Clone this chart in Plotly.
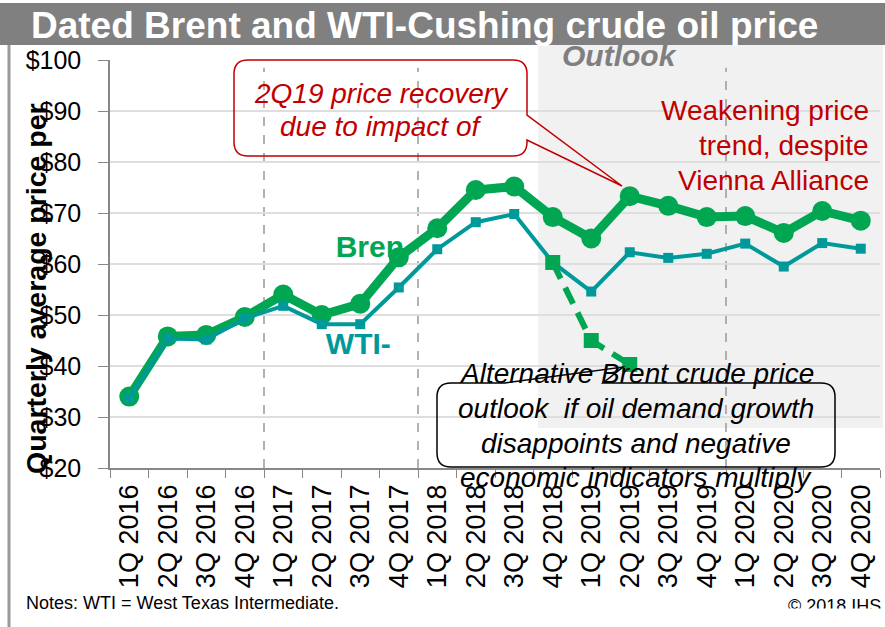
import plotly.graph_objects as go

quarters = [
    "1Q 2016", "2Q 2016", "3Q 2016", "4Q 2016",
    "1Q 2017", "2Q 2017", "3Q 2017", "4Q 2017",
    "1Q 2018", "2Q 2018", "3Q 2018", "4Q 2018",
    "1Q 2019", "2Q 2019", "3Q 2019", "4Q 2019",
    "1Q 2020", "2Q 2020", "3Q 2020", "4Q 2020",
]
brent = [34.0, 45.8, 46.1, 49.6, 54.0, 50.0, 52.2, 61.3, 67.0, 74.5,
         75.2, 69.2, 65.0, 73.3, 71.4, 69.2, 69.4, 66.1, 70.4, 68.5]
wti = [33.8, 45.4, 45.2, 49.3, 51.8, 48.2, 48.2, 55.4, 62.9, 68.2,
       69.8, 60.3, 54.6, 62.3, 61.2, 62.0, 64.0, 59.5, 64.1, 63.0]
alt_quarters = ["4Q 2018", "1Q 2019", "2Q 2019"]
alt_brent = [60.3, 45.0, 40.3]
year_breaks = [3.5, 7.5, 15.5]

FONT = "Liberation Sans, Arial, sans-serif"
GREEN = "#00a651"
TEAL = "#009999"
RED = "#c00000"

# plot area in pixels: x 110..880, y 60..468
L, R, T, B = 110, 880, 60, 468

xpos = list(range(len(quarters)))
alt_xpos = [quarters.index(q) for q in alt_quarters]


def fx(p):
    return (p - L) / (R - L)


def fy(p):
    return (B - p) / (B - T)


def callout_path(x0, y0, x1, y1, r, top=None, right=None):
    pts = [f"M{fx(x0 + r)},{fy(y0)}"]
    if top:
        for px, py in top:
            pts.append(f"L{fx(px)},{fy(py)}")
    pts.append(f"L{fx(x1 - r)},{fy(y0)}")
    pts.append(f"Q{fx(x1)},{fy(y0)} {fx(x1)},{fy(y0 + r)}")
    if right:
        for px, py in right:
            pts.append(f"L{fx(px)},{fy(py)}")
    pts.append(f"L{fx(x1)},{fy(y1 - r)}")
    pts.append(f"Q{fx(x1)},{fy(y1)} {fx(x1 - r)},{fy(y1)}")
    pts.append(f"L{fx(x0 + r)},{fy(y1)}")
    pts.append(f"Q{fx(x0)},{fy(y1)} {fx(x0)},{fy(y1 - r)}")
    pts.append(f"L{fx(x0)},{fy(y0 + r)}")
    pts.append(f"Q{fx(x0)},{fy(y0)} {fx(x0 + r)},{fy(y0)}")
    return " ".join(pts) + " Z"


fig = go.Figure()

# series labels sit under the lines (Brent line runs over the "n")
fig.add_trace(go.Scatter(
    x=[6.25, 5.95], y=[62.9, 43.9],
    mode="text", text=["<b>Bren</b>", "<b>WTI-</b>"],
    textfont=dict(family=FONT, size=30, color=[GREEN, TEAL]),
    showlegend=False, hoverinfo="skip",
))
fig.add_trace(go.Scatter(
    x=xpos, y=brent, mode="lines+markers", name="Brent",
    line=dict(color=GREEN, width=9),
    marker=dict(symbol="circle", size=20, color=GREEN),
    showlegend=False,
))
fig.add_trace(go.Scatter(
    x=xpos, y=wti, mode="lines+markers", name="WTI",
    line=dict(color=TEAL, width=4),
    marker=dict(symbol="square", size=10, color=TEAL),
    showlegend=False,
))
fig.add_trace(go.Scatter(
    x=alt_xpos, y=alt_brent, mode="lines+markers", name="Alternative Brent",
    line=dict(color=GREEN, width=6, dash="18px,10px"),
    marker=dict(symbol="square", size=15, color=GREEN),
    showlegend=False,
))

shapes = [
    # title bar and left frame
    dict(type="rect", xref="paper", yref="paper", x0=fx(0), x1=fx(885),
         y0=fy(45), y1=fy(3), fillcolor="#808080", line_width=0, layer="above"),
    dict(type="line", xref="paper", yref="paper", x0=fx(9), x1=fx(9),
         y0=fy(45), y1=fy(627), line=dict(color="#9a9a9a", width=3)),
    # outlook shading
    dict(type="rect", xref="paper", yref="paper", x0=fx(538), x1=fx(883),
         y0=fy(428), y1=fy(45), fillcolor="#f1f1f1", line_width=0, layer="below"),
    # callouts
    dict(type="path", xref="paper", yref="paper", layer="above",
         path=callout_path(234, 60, 527, 156, 14, right=[(527, 115), (622, 186), (527, 140)]),
         line=dict(color=RED, width=1.5), fillcolor="rgba(0,0,0,0)"),
    dict(type="path", xref="paper", yref="paper", layer="above",
         path=callout_path(437, 383, 835, 467, 14, top=[(505, 383), (623, 367), (603, 383)]),
         line=dict(color="black", width=1.5), fillcolor="rgba(0,0,0,0)"),
]
for xb in year_breaks:
    shapes.append(dict(type="line", xref="x", yref="y", x0=xb, x1=xb, y0=20, y1=98.5,
                       line=dict(color="#999999", width=1.5, dash="dash"), layer="below"))

annotations = [
    dict(text="<b>Dated Brent and WTI-Cushing crude oil price</b>", x=fx(29), y=fy(25),
         xanchor="left", yanchor="middle", font=dict(family=FONT, size=37, color="white")),
    dict(text="<b><i>Outlook</i></b>", x=fx(619), y=fy(55), xanchor="center", yanchor="middle",
         font=dict(family=FONT, size=30, color="#7f7f7f")),
    dict(text="<b>Quarterly average price per</b>", x=fx(36), y=fy(289), textangle=-90,
         xanchor="center", yanchor="middle", font=dict(family=FONT, size=28.5, color="black")),
    dict(text="Notes: WTI = West Texas Intermediate.", x=fx(24), y=fy(603),
         xanchor="left", yanchor="middle", font=dict(family=FONT, size=18, color="black")),
    dict(text="© 2018 IHS", x=fx(883), y=fy(606), xanchor="right", yanchor="middle",
         font=dict(family=FONT, size=18, color="black")),
    dict(text=" ", x=fx(883), y=fy(608), xanchor="right", yanchor="top", width=120, height=18,
         bgcolor="white", font=dict(size=10)),
]
for line, yp in [("2Q19 price recovery", 93), ("due to impact of", 127)]:
    annotations.append(dict(text=f"<i>{line}</i>", x=fx(381), y=fy(yp), xanchor="center",
                            yanchor="middle", font=dict(family=FONT, size=28, color=RED)))
for line, yp in [("Weakening price", 110), ("trend, despite", 145), ("Vienna Alliance", 180)]:
    annotations.append(dict(text=line, x=fx(871), y=fy(yp), xanchor="right",
                            yanchor="middle", font=dict(family=FONT, size=28, color=RED)))
for line, yp in [("Alternative Brent crude price", 373), ("outlook  if oil demand growth", 408),
                 ("disappoints and negative", 443), ("economic indicators multiply", 478)]:
    annotations.append(dict(text=f"<i>{line}</i>", x=fx(636), y=fy(yp), xanchor="center",
                            yanchor="middle", font=dict(family=FONT, size=28, color="black")))
for a in annotations:
    a.setdefault("xref", "paper")
    a.setdefault("yref", "paper")
    a.setdefault("showarrow", False)

fig.update_layout(
    width=885, height=627,
    margin=dict(l=L, r=885 - R, t=T, b=627 - B),
    paper_bgcolor="white", plot_bgcolor="rgba(0,0,0,0)",
    font=dict(family=FONT, color="black"),
    shapes=shapes, annotations=annotations,
    showlegend=False,
)
fig.update_xaxes(
    range=[-0.5, len(quarters) - 0.5], tickmode="array", tickvals=xpos, ticktext=quarters,
    tickangle=-90, ticks="", ticklabelstandoff=4,
    minor=dict(tickmode="array", tickvals=[i - 0.5 for i in range(len(quarters) + 1)],
               ticks="outside", ticklen=8, tickcolor="#888888", showgrid=False),
    showline=True, linecolor="#888888", linewidth=1.5, showgrid=False, zeroline=False,
    tickfont=dict(family=FONT, size=27, color="black"),
)
fig.update_yaxes(
    range=[20, 100], dtick=10, tickprefix="$",
    ticks="outside", ticklen=10, tickcolor="#888888", ticklabelstandoff=12,
    showline=True, linecolor="#888888", linewidth=1.5,
    showgrid=True, gridcolor="#dedede", gridwidth=2, zeroline=False,
    tickfont=dict(family=FONT, size=25, color="black"),
)

fig.write_html("out.html", config={"displayModeBar": False},
               post_script="document.body.style.margin='0';")
